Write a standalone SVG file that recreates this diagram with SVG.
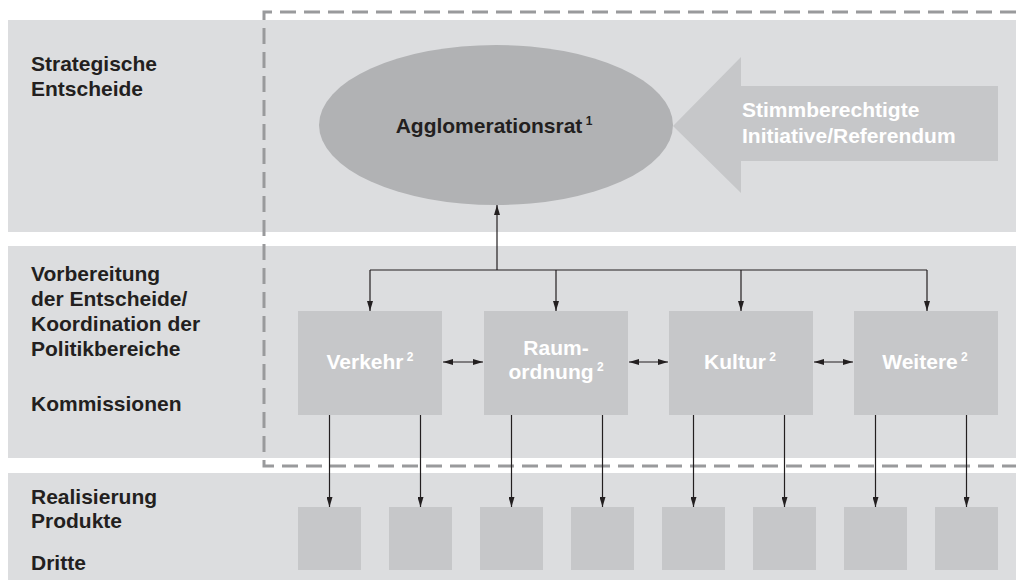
<svg xmlns="http://www.w3.org/2000/svg" width="1016" height="581" viewBox="0 0 1016 581">
<defs>
<style>
.band{fill:#dcdddf}
.box{fill:#c6c7c9}
.lbl{font-family:"Liberation Sans",Arial,sans-serif;font-weight:bold;font-size:21px;fill:#231f20}
.wt{font-family:"Liberation Sans",Arial,sans-serif;font-weight:bold;font-size:21px;fill:#ffffff}
.sup{font-size:12px}
.con{stroke:#231f20;stroke-width:1.2;fill:none}
.dash{stroke:#999a9c;stroke-width:3;fill:none;stroke-dasharray:16 8}
</style>
<marker id="ah" viewBox="0 0 10 6" refX="10" refY="3" markerWidth="10" markerHeight="6" markerUnits="userSpaceOnUse" orient="auto-start-reverse">
<path d="M0,0 L10,3 L0,6 Z" fill="#231f20"/>
</marker>
</defs>
<rect width="1016" height="581" fill="#ffffff"/>
<g id="bands">
<rect class="band" x="8" y="20" width="1008" height="212"/>
<rect class="band" x="8" y="246" width="1008" height="212"/>
<rect class="band" x="8" y="473" width="1008" height="107"/>
</g>
<g id="row-labels">
<text class="lbl" x="31" y="71">Strategische</text>
<text class="lbl" x="31" y="96">Entscheide</text>
<text class="lbl" x="31" y="281">Vorbereitung</text>
<text class="lbl" x="31" y="306">der Entscheide/</text>
<text class="lbl" x="31" y="331">Koordination der</text>
<text class="lbl" x="31" y="356">Politikbereiche</text>
<text class="lbl" x="31" y="411">Kommissionen</text>
<text class="lbl" x="31" y="504">Realisierung</text>
<text class="lbl" x="31" y="528">Produkte</text>
<text class="lbl" x="31" y="570">Dritte</text>
</g>
<g id="agglomerationsrat">
<ellipse cx="496" cy="125" rx="177" ry="80" fill="#b1b2b4"/>
<text class="lbl" x="494" y="133" text-anchor="middle">Agglomerationsrat<tspan class="sup" dy="-8"> 1</tspan></text>
</g>
<g id="stimmberechtigte">
<path d="M673,126 L741,57 L741,86 L998,86 L998,161 L741,161 L741,193 Z" fill="#c6c7c9"/>
<text class="wt" x="742" y="117" fill="#f4f4f4">Stimmberechtigte</text>
<text class="wt" x="742" y="143" fill="#f4f4f4">Initiative/Referendum</text>
</g>
<g id="verkehr">
<rect class="box" x="298" y="311" width="144" height="104"/>
<text class="wt" x="370" y="369" text-anchor="middle">Verkehr<tspan class="sup" dy="-8"> 2</tspan></text>
</g>
<g id="raumordnung">
<rect class="box" x="484" y="311" width="144" height="104"/>
<text class="wt" x="556" y="355" text-anchor="middle">Raum-</text>
<text class="wt" x="556" y="379" text-anchor="middle">ordnung<tspan class="sup" dy="-8"> 2</tspan></text>
</g>
<g id="kultur">
<rect class="box" x="669" y="311" width="144" height="104"/>
<text class="wt" x="740" y="369" text-anchor="middle">Kultur<tspan class="sup" dy="-8"> 2</tspan></text>
</g>
<g id="weitere">
<rect class="box" x="854" y="311" width="144" height="104"/>
<text class="wt" x="925" y="369" text-anchor="middle">Weitere<tspan class="sup" dy="-8"> 2</tspan></text>
</g>
<g id="produkte">
<rect class="box" x="298" y="507" width="63" height="63"/>
<rect class="box" x="389" y="507" width="63" height="63"/>
<rect class="box" x="480" y="507" width="63" height="63"/>
<rect class="box" x="571" y="507" width="63" height="63"/>
<rect class="box" x="662" y="507" width="63" height="63"/>
<rect class="box" x="753" y="507" width="63" height="63"/>
<rect class="box" x="844" y="507" width="63" height="63"/>
<rect class="box" x="935" y="507" width="63" height="63"/>
</g>
<g id="boundary">
<path class="dash" d="M1016,12 H264 V466 H1016"/>
</g>
<g id="connectors">
<path class="con" d="M497,270 V205" marker-end="url(#ah)"/>
<path class="con" d="M370,270 H927"/>
<path class="con" d="M370,270 V311" marker-end="url(#ah)"/>
<path class="con" d="M556,270 V311" marker-end="url(#ah)"/>
<path class="con" d="M741,270 V311" marker-end="url(#ah)"/>
<path class="con" d="M927,270 V311" marker-end="url(#ah)"/>
<path class="con" d="M443,362 H483" marker-start="url(#ah)" marker-end="url(#ah)"/>
<path class="con" d="M629,362 H668" marker-start="url(#ah)" marker-end="url(#ah)"/>
<path class="con" d="M814,362 H853" marker-start="url(#ah)" marker-end="url(#ah)"/>
<path class="con" d="M329.5,415 V507" marker-end="url(#ah)"/>
<path class="con" d="M420.5,415 V507" marker-end="url(#ah)"/>
<path class="con" d="M511.5,415 V507" marker-end="url(#ah)"/>
<path class="con" d="M602.5,415 V507" marker-end="url(#ah)"/>
<path class="con" d="M693.5,415 V507" marker-end="url(#ah)"/>
<path class="con" d="M784.5,415 V507" marker-end="url(#ah)"/>
<path class="con" d="M875.5,415 V507" marker-end="url(#ah)"/>
<path class="con" d="M966.5,415 V507" marker-end="url(#ah)"/>
</g>
</svg>
